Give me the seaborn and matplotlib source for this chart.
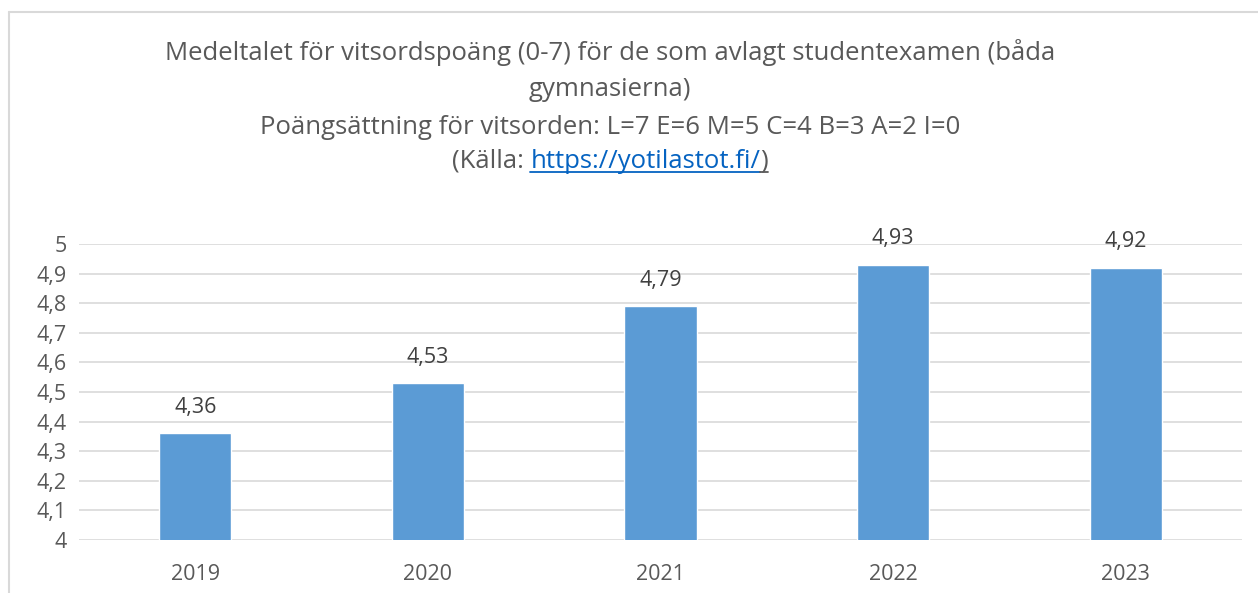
import matplotlib
matplotlib.use('Agg')
import matplotlib.pyplot as plt
import seaborn as sns
import pandas as pd
from matplotlib.lines import Line2D

# Data
years = ['2019', '2020', '2021', '2022', '2023']
values = [4.36, 4.53, 4.79, 4.93, 4.92]
yticks = [4.0, 4.1, 4.2, 4.3, 4.4, 4.5, 4.6, 4.7, 4.8, 4.9, 5.0]
ytick_labels = ['4', '4,1', '4,2', '4,3', '4,4', '4,5', '4,6', '4,7', '4,8', '4,9', '5']

df = pd.DataFrame({'year': years, 'value': values})

sns.set_style('white')
plt.rcParams['font.family'] = ['Open Sans', 'DejaVu Sans']

GRAY = '#595959'
BLUE = '#5B9BD5'
LINK = '#0563C1'
W, H = 1258, 593

fig = plt.figure(figsize=(W / 100, H / 100), dpi=100)
ax = fig.add_axes([79 / W, 1 - 540 / H, (1242 - 79) / W, (540 - 244) / H])

sns.barplot(data=df, x='year', y='value', color=BLUE, width=0.31, ax=ax,
            saturation=1, zorder=3)

ax.set_ylim(4, 5)
ax.set_xlim(-0.5, 4.5)
ax.set_yticks(yticks)
ax.set_yticklabels(ytick_labels)
ax.grid(axis='y', color='#D9D9D9', linewidth=1.2, zorder=0)
ax.set_axisbelow(True)
for s in ax.spines.values():
    s.set_visible(False)
ax.tick_params(axis='both', length=0, labelsize=15.5, labelcolor=GRAY)
ax.tick_params(axis='y', pad=9)
ax.tick_params(axis='x', pad=17)
ax.set_xlabel('')
ax.set_ylabel('')

for i, v in enumerate(values):
    ax.annotate(f'{v:.2f}'.replace('.', ','), (i, v), xytext=(0, 11),
                textcoords='offset points', ha='center', va='bottom',
                fontsize=15.5, color='#404040')

# chart border (left and top only, rest is cropped)
fig.add_artist(Line2D([9 / W, 9 / W], [0, 1 - 12 / H], transform=fig.transFigure,
                      color='#D9D9D9', linewidth=1.5))
fig.add_artist(Line2D([9 / W, 1], [1 - 12 / H, 1 - 12 / H], transform=fig.transFigure,
                      color='#D9D9D9', linewidth=1.5))

# title
cx = 610 / W
tsize = 18.5
fig.text(cx, 1 - 53 / H, 'Medeltalet för vitsordspoäng (0-7) för de som avlagt studentexamen (båda',
         ha='center', va='center', fontsize=tsize, color=GRAY)
fig.text(cx, 1 - 89 / H, 'gymnasierna)', ha='center', va='center', fontsize=tsize, color=GRAY)
fig.text(cx, 1 - 127 / H, 'Poängsättning för vitsorden: L=7 E=6 M=5 C=4 B=3 A=2 I=0',
         ha='center', va='center', fontsize=tsize, color=GRAY)

# last line with link, built from pieces
renderer = fig.canvas.get_renderer()
parts = [('(Källa: ', GRAY), ('https://yotilastot.fi/', LINK), (')', GRAY)]
ty = 1 - 161 / H
texts = []
widths = []
for s, c in parts:
    t = fig.text(0, ty, s, ha='left', va='center', fontsize=tsize, color=c)
    texts.append(t)
    widths.append(t.get_window_extent(renderer).width)
x0 = cx * W - sum(widths) / 2
x = x0
for t, w in zip(texts, widths):
    t.set_x(x / W)
    x += w

# underline under link and closing parenthesis
ul_y = 1 - 172 / H
link_start = x0 + widths[0]
link_end = link_start + widths[1]
fig.add_artist(Line2D([link_start / W, link_end / W], [ul_y, ul_y],
                      transform=fig.transFigure, color=LINK, linewidth=1.3))
fig.add_artist(Line2D([link_end / W, (link_end + widths[2]) / W], [ul_y, ul_y],
                      transform=fig.transFigure, color=GRAY, linewidth=1.3))

fig.savefig('out.png', dpi=100)
